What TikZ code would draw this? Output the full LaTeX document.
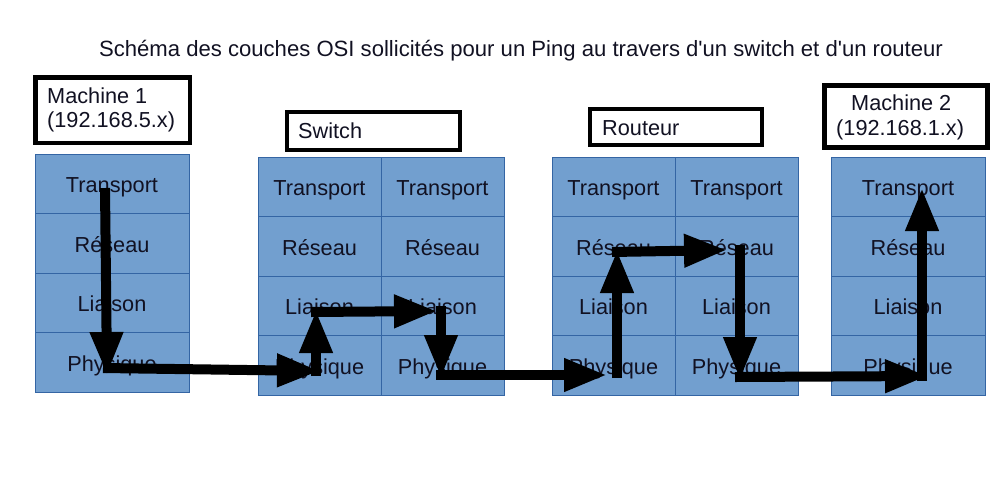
\documentclass[tikz,border=0pt]{standalone}
\usepackage{fontspec}
\setmainfont{Liberation Sans}[Ligatures=TeXOff]
\usetikzlibrary{arrows.meta}
\definecolor{cellfill}{HTML}{729FCF}
\definecolor{cellline}{HTML}{3465A4}
\definecolor{ink}{HTML}{111122}
\begin{document}
\begin{tikzpicture}[x=1pt,y=-1pt,
  every node/.style={font=\fontsize{21.7}{24}\selectfont, text=ink},
  cell/.style={draw=cellline, line width=0.8pt, fill=cellfill, inner sep=0pt,
    minimum height=59.5pt, text height=22pt, text depth=4pt},
  wcell/.style={cell, minimum width=154pt},
  ncell/.style={cell, minimum width=123pt},
  lbl/.style={draw=black, line width=4.5pt, fill=white, inner sep=0pt},
  txt/.style={anchor=base west, inner sep=0pt},
  flow/.style={line width=10pt, draw=black, -{Triangle[length=43pt,width=31pt]}}]
\useasboundingbox (0,0) rectangle (1003,488);

% title
\node[anchor=base, inner sep=0pt, font=\fontsize{22.1}{24}\selectfont] (title) at (521,56)
  {Schéma des couches OSI sollicités pour un Ping au travers d'un switch et d'un routeur};

% label boxes
\node[lbl, minimum width=154.5pt, minimum height=65.5pt] (m1box) at (112.5,110) {};
\node[txt] (m1t1) at (47,103.5) {Machine 1};
\node[txt] (m1t2) at (47,127.5) {(192.168.5.x)};

\node[lbl, minimum width=173pt, minimum height=38pt] (swbox) at (373.5,131) {};
\node[txt] (swt) at (298,138) {Switch};

\node[lbl, minimum width=172pt, minimum height=36pt] (rtbox) at (676,127) {};
\node[txt] (rtt) at (602,135) {Routeur};

\node[lbl, minimum width=163pt, minimum height=62pt] (m2box) at (906,116.5) {};
\node[txt] (m2t1) at (851,110.5) {Machine 2};
\node[txt] (m2t2) at (836,135) {(192.168.1.x)};

% stacks
\foreach \t [count=\i] in {Transport,Réseau,Liaison,Physique} {
  \node[wcell] (m1-\i) at (112,{154+59.5*\i-29.75}) {\t};
  \node[ncell] (swa-\i) at (319.5,{157+59.5*\i-29.75}) {\t};
  \node[ncell] (swb-\i) at (442.5,{157+59.5*\i-29.75}) {\t};
  \node[ncell] (rta-\i) at (613.5,{157+59.5*\i-29.75}) {\t};
  \node[ncell] (rtb-\i) at (736.5,{157+59.5*\i-29.75}) {\t};
  \node[wcell] (m2-\i) at (908,{157+59.5*\i-29.75}) {\t};
}

% flow of the ping
\coordinate (a) at (105,188);
\coordinate (b) at (107,375);
\coordinate (c) at (103,368);
\coordinate (d) at (320,371);
\coordinate (e) at (316,376);
\coordinate (f) at (316,310);
\coordinate (g) at (311,312);
\coordinate (h) at (437,311);
\coordinate (i) at (441,306);
\coordinate (j) at (441,378);
\coordinate (k) at (436,375);
\coordinate (l) at (607,375);
\coordinate (m) at (617,378);
\coordinate (n) at (617,250);
\coordinate (o) at (612,252);
\coordinate (p) at (727,250);
\coordinate (q) at (740,245);
\coordinate (r) at (740,380);
\coordinate (s) at (735,377);
\coordinate (t) at (928,376);
\coordinate (u) at (922,381);
\coordinate (v) at (922,188);

\draw[flow] (a) -- (b);
\draw[flow] (c) -- (d);
\draw[flow] (e) -- (f);
\draw[flow] (g) -- (h);
\draw[flow] (i) -- (j);
\draw[flow] (k) -- (l);
\draw[flow] (m) -- (n);
\draw[flow] (o) -- (p);
\draw[flow] (q) -- (r);
\draw[flow] (s) -- (t);
\draw[flow] (u) -- (v);
\end{tikzpicture}
\end{document}
